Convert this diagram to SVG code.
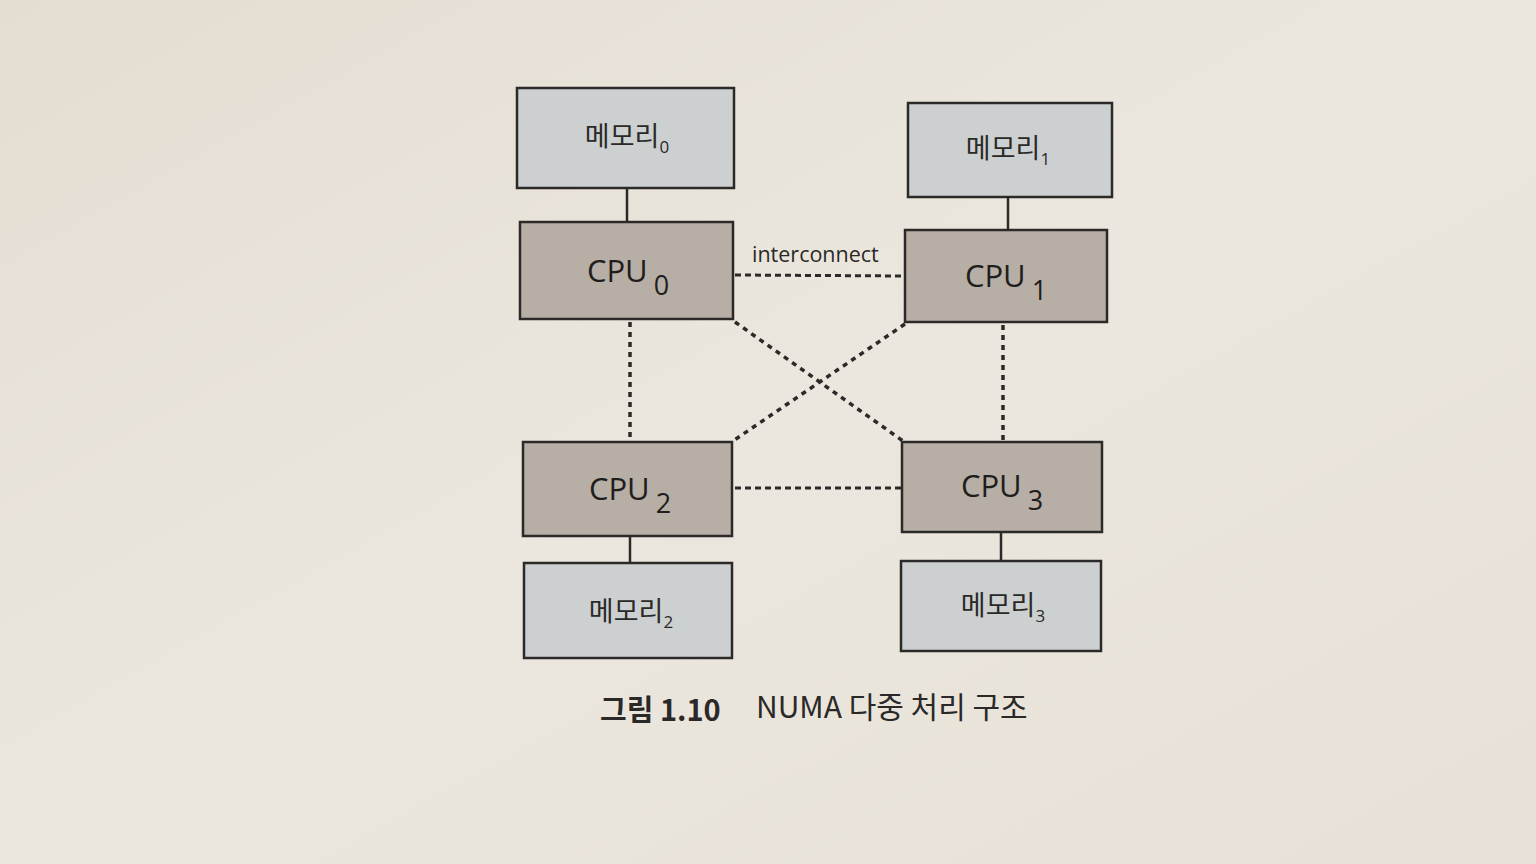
<svg xmlns="http://www.w3.org/2000/svg" width="1536" height="864" viewBox="0 0 1536 864">
  <defs>
    <linearGradient id="bg" x1="0" y1="0" x2="1" y2="1">
      <stop offset="0" stop-color="#e3ddd2"/>
      <stop offset="0.5" stop-color="#ece7de"/>
      <stop offset="1" stop-color="#e6e0d6"/>
    </linearGradient>
  </defs>
  <style>
    .mem { fill: #cdd0d1; stroke: #2b2a28; stroke-width: 2.5; }
    .cpu { fill: #b7aea5; stroke: #2b2a28; stroke-width: 2.5; }
    .solid { stroke: #2b2a28; stroke-width: 2.5; fill: none; }
    .dash { stroke: #2b2a28; stroke-width: 3; stroke-dasharray: 6 4; fill: none; }
    .dot { stroke: #2b2a28; stroke-width: 3.5; stroke-dasharray: 5 5; fill: none; }
    .memt { font-family: "Noto Sans CJK KR", "Noto Sans", sans-serif; font-size: 27px; fill: #2a2927; text-anchor: middle; }
    .sub { font-family: "Open Sans", "Noto Sans", sans-serif; font-size: 17px; }
    .cput { font-family: "Open Sans", "Noto Sans", sans-serif; font-size: 31px; fill: #1f1e1c; text-anchor: middle; }
    .lbl { font-family: "Open Sans", "Noto Sans", sans-serif; font-size: 21.5px; fill: #2a2927; }
    .cap { font-family: "Noto Sans CJK KR", "Noto Sans", sans-serif; fill: #2a2927; }
  </style>
  <rect x="0" y="0" width="1536" height="864" fill="url(#bg)"/>

  <g id="connectors">
    <line class="solid" x1="627" y1="189" x2="627" y2="222"/>
    <line class="solid" x1="1008" y1="197" x2="1008" y2="230"/>
    <line class="solid" x1="630" y1="536" x2="630" y2="564"/>
    <line class="solid" x1="1001" y1="532" x2="1001" y2="561"/>
    <line class="dash" x1="735" y1="275" x2="905" y2="276"/>
    <line class="dash" x1="735" y1="488" x2="902" y2="488"/>
    <line class="dot" x1="630" y1="322" x2="630" y2="441"/>
    <line class="dot" x1="1003" y1="325" x2="1003" y2="441"/>
    <line class="dot" x1="735" y1="322" x2="903" y2="441"/>
    <line class="dot" x1="905" y1="324" x2="733" y2="441"/>
    <text class="lbl" x="752" y="262">interconnect</text>
  </g>

  <g id="mem0">
    <rect class="mem" x="517" y="88" width="217" height="100"/>
    <text class="memt" x="627" y="146">메모리<tspan class="sub" dy="7">0</tspan></text>
  </g>
  <g id="mem1">
    <rect class="mem" x="908" y="103" width="204" height="94"/>
    <text class="memt" x="1008" y="158">메모리<tspan class="sub" dy="7">1</tspan></text>
  </g>
  <g id="cpu0">
    <rect class="cpu" x="520" y="222" width="213" height="97"/>
    <text class="cput" x="628" y="282">CPU<tspan dx="6" dy="13" font-size="27">0</tspan></text>
  </g>
  <g id="cpu1">
    <rect class="cpu" x="905" y="230" width="202" height="92"/>
    <text class="cput" x="1006" y="287">CPU<tspan dx="6" dy="13" font-size="27">1</tspan></text>
  </g>
  <g id="cpu2">
    <rect class="cpu" x="523" y="442" width="209" height="94"/>
    <text class="cput" x="630" y="500">CPU<tspan dx="6" dy="13" font-size="27">2</tspan></text>
  </g>
  <g id="cpu3">
    <rect class="cpu" x="902" y="442" width="200" height="90"/>
    <text class="cput" x="1002" y="497">CPU<tspan dx="6" dy="13" font-size="27">3</tspan></text>
  </g>
  <g id="mem2">
    <rect class="mem" x="524" y="563" width="208" height="95"/>
    <text class="memt" x="631" y="621">메모리<tspan class="sub" dy="7">2</tspan></text>
  </g>
  <g id="mem3">
    <rect class="mem" x="901" y="561" width="200" height="90"/>
    <text class="memt" x="1003" y="615">메모리<tspan class="sub" dy="7">3</tspan></text>
  </g>

  <g id="caption">
    <text class="cap" x="600" y="721" font-size="29" font-weight="bold">그림 1.10</text>
    <text class="cap" x="756" y="718" font-size="30">NUMA 다중 처리 구조</text>
  </g>
</svg>
